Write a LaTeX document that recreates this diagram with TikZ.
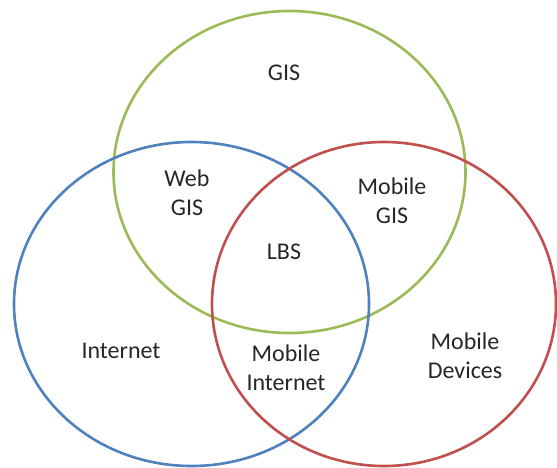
\documentclass[tikz,border=0pt]{standalone}
\usepackage{fontspec}
\setmainfont{Carlito}
\definecolor{vgreen}{HTML}{9BBB59}
\definecolor{vblue}{HTML}{4F81BD}
\definecolor{vred}{HTML}{C0504D}
\begin{document}
\begin{tikzpicture}[x=1pt,y=-1pt,
  ring/.style={line width=2.6pt},
  lbl/.style={font=\fontsize{24}{29}\selectfont, text=black!85, align=center, inner sep=0pt}]
\useasboundingbox (0,0) rectangle (557,468);
\draw[ring, vgreen] (289.5,172) ellipse [x radius=176, y radius=161];
\draw[ring, vblue] (191.5,304) ellipse [x radius=177.5, y radius=162];
\draw[ring, vred] (384,304) ellipse [x radius=172, y radius=162];
\node[lbl] (gis) at (284,73) {GIS};
\node[lbl] (webgis) at (187,193) {Web\\GIS};
\node[lbl] (mobgis) at (392,201) {Mobile\\GIS};
\node[lbl] (lbs) at (284,252) {LBS};
\node[lbl] (internet) at (121,351) {Internet};
\node[lbl] (mobint) at (286,368) {Mobile\\Internet};
\node[lbl] (mobdev) at (465,356) {Mobile\\Devices};
\end{tikzpicture}
\end{document}
